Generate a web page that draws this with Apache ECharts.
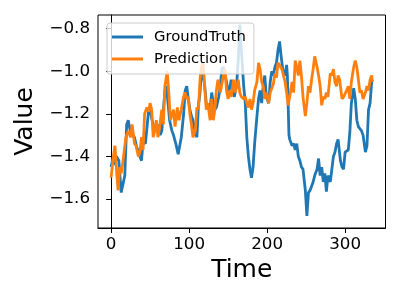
<!DOCTYPE html>
<html>
<head>
<meta charset="utf-8">
<script src="https://cdn.jsdelivr.net/npm/echarts@6/dist/echarts.min.js"></script>
<style>html,body{margin:0;padding:0;background:#fff}#c{width:400px;height:300px}</style>
</head>
<body>
<div id="c"></div>
<script>
var seriesNames = ['GroundTruth', 'Prediction'];
var xTicks = [0, 100, 200, 300];
var yTicks = [-1.6, -1.4, -1.2, -1.0, -0.8];

var gtTime = [0,3,5,7,10,13,15,17.6,20,22,24,27,30,33,35,37,39,41,44,48,50,52,54,57,60,63,65,69,71,73,75,78,80,83,86,88,90,93,95,97,99,101,103,105,108,110,112,114,116,118,120,122,125,127,129,131,133,135,138,140,142,144,146,148,150,152,154,156,158,161,163,165,167,170,172,174,176,178,180,182,184,187,189,191,193,195,197,199,202,204,206,208,210,212,214,216,218,220,223,225,226,228,229,232,234,236,238,240,242,244,246,249,251,253,255,257,259,261,264,266,268,270,272,274,276,278,281,283,285,287,289,291,294,296,298,300,302,304,306,308,311,313,315,317,319,321,323,326,328,330,332,334,335];
var gtValue = [-1.45,-1.40,-1.44,-1.40,-1.42,-1.57,-1.57,-1.49,-1.25,-1.23,-1.27,-1.30,-1.31,-1.36,-1.37,-1.40,-1.42,-1.33,-1.34,-1.19,-1.17,-1.22,-1.25,-1.28,-1.25,-1.30,-1.28,-1.09,-1.07,-1.15,-1.23,-1.28,-1.30,-1.34,-1.39,-1.35,-1.31,-1.20,-1.09,-1.07,-1.13,-1.18,-1.21,-1.23,-1.29,-1.31,-1.16,-1.10,-0.98,-1.02,-1.07,-1.15,-1.16,-1.17,-1.10,-1.15,-1.18,-1.17,-1.12,-1.07,-0.99,-0.98,-1.02,-1.05,-1.10,-1.08,-1.04,-1.09,-1.12,-1.06,-0.95,-0.78,-0.90,-1.07,-1.15,-1.31,-1.40,-1.46,-1.50,-1.45,-1.34,-1.21,-1.13,-1.09,-1.15,-1.07,-1.02,-1.12,-1.15,-1.05,-1.00,-1.02,-0.98,-0.96,-0.90,-0.86,-0.93,-0.99,-1.02,-0.97,-1.02,-1.30,-1.32,-1.35,-1.34,-1.37,-1.34,-1.40,-1.42,-1.45,-1.46,-1.56,-1.68,-1.57,-1.56,-1.54,-1.52,-1.49,-1.46,-1.41,-1.49,-1.45,-1.52,-1.48,-1.565,-1.49,-1.52,-1.46,-1.40,-1.38,-1.34,-1.32,-1.42,-1.45,-1.46,-1.38,-1.38,-1.37,-1.29,-1.15,-1.08,-1.13,-1.23,-1.26,-1.27,-1.28,-1.30,-1.38,-1.35,-1.18,-1.15,-1.05,-1.04];

var predTime = [0,3,5,7.5,9,11,13,15,19,22,25,27,30,32,35,37,39,41,43,46,48,50,52,54,56,58,60,62,65,67,69,72,74,76,80,82,85,87,90,93,95,97,99,101,103,105,108,110,112,114,116,118,120,122,124,127,129,131,133,135,137,140,142,144,146,148,150,152,154,157,159,161,163,165,167,170,172,174,176,178,180,182,184,187,189,191,193,195,197,199,202,204,206,208,210,212,214,216,219,221,223,225,227,229,232,234,236,238,240,242,244,246,249,251,253,255,257,259,261,264,266,268,270,272,274,276,278,281,283,285,287,289,291,293,296,298,300,302,304,306,308,311,313,315,317,319,321,323,326,328,330,332,334,335];
var predValue = [-1.50,-1.40,-1.35,-1.49,-1.56,-1.45,-1.48,-1.43,-1.31,-1.28,-1.31,-1.25,-1.34,-1.35,-1.40,-1.38,-1.31,-1.37,-1.20,-1.17,-1.19,-1.15,-1.18,-1.31,-1.28,-1.23,-1.31,-1.27,-1.18,-1.25,-1.07,-1.00,-1.10,-1.23,-1.18,-1.26,-1.17,-1.23,-1.18,-1.12,-1.10,-1.13,-1.12,-1.20,-1.25,-1.31,-1.28,-1.17,-1.18,-1.04,-0.98,-0.96,-1.07,-1.18,-1.15,-1.23,-1.13,-1.23,-1.18,-1.09,-1.04,-1.10,-1.06,-1.02,-0.99,-1.09,-1.13,-1.09,-1.12,-1.04,-1.10,-1.07,-1.04,-1.10,-1.12,-1.13,-1.12,-1.15,-1.17,-1.13,-1.18,-1.15,-1.09,-1.05,-0.96,-0.99,-1.05,-1.07,-1.13,-1.10,-1.15,-1.10,-1.10,-1.06,-1.01,-1.03,-0.96,-0.96,-0.99,-1.02,-1.05,-1.10,-1.16,-1.12,-1.05,-1.10,-0.95,-0.98,-1.02,-0.95,-1.02,-1.12,-1.21,-1.15,-1.07,-1.10,-1.04,-0.99,-0.93,-0.98,-1.02,-1.07,-1.16,-1.12,-1.13,-1.10,-1.12,-1.01,-1.02,-0.99,-1.05,-1.07,-1.02,-1.04,-1.13,-1.12,-1.12,-1.09,-1.07,-1.13,-1.05,-0.98,-0.95,-0.98,-1.04,-1.10,-1.09,-1.13,-1.10,-1.07,-1.09,-1.04,-1.02,-1.05];

function pairs(t, v) { return t.map(function (x, i) { return [x, v[i]]; }); }
function fmt(v) { return (v < 0 ? '\u2212' : '') + Math.abs(v).toFixed(1); }

var FONT = 'DejaVu Sans';
var chart = echarts.init(document.getElementById('c'), null, { renderer: 'canvas' });
chart.setOption({
  animation: false,
  backgroundColor: '#ffffff',
  textStyle: { fontFamily: FONT },
  grid: { left: 98, right: 14.5, top: 15, bottom: 72, show: true, borderColor: '#000', borderWidth: 1, backgroundColor: 'transparent' },
  legend: {
    orient: 'vertical', left: 107, top: 23,
    padding: [5, 8, 6, 5], itemGap: 4, itemWidth: 31, itemHeight: 3,
    icon: 'rect',
    backgroundColor: 'rgba(255,255,255,0.8)', borderColor: '#cccccc', borderWidth: 1, borderRadius: 3,
    textStyle: { fontFamily: FONT, fontSize: 14.8, color: '#000', lineHeight: 18, padding: [0, 0, 0, 6] },
    data: seriesNames
  },
  xAxis: {
    type: 'value', min: -16.75, max: 351.75,
    name: 'Time', nameLocation: 'middle', nameGap: 30,
    nameTextStyle: { fontFamily: FONT, fontSize: 25, color: '#000' },
    axisLine: { show: true, lineStyle: { color: '#000', width: 1 } },
    axisTick: { show: true, customValues: xTicks, length: 5, lineStyle: { color: '#000', width: 1 } },
    axisLabel: { customValues: xTicks, fontFamily: FONT, fontSize: 16.7, color: '#000', margin: 8 },
    splitLine: { show: false }
  },
  yAxis: {
    type: 'value', min: -1.7365, max: -0.7355,
    name: 'Value', nameLocation: 'middle', nameGap: 60, nameRotate: 90,
    nameTextStyle: { fontFamily: FONT, fontSize: 25, color: '#000' },
    axisLine: { show: true, lineStyle: { color: '#000', width: 1 } },
    axisTick: { show: true, customValues: yTicks, length: 5, lineStyle: { color: '#000', width: 1 } },
    axisLabel: { customValues: yTicks, formatter: fmt, fontFamily: FONT, fontSize: 16.7, color: '#000', margin: 8 },
    splitLine: { show: false }
  },
  series: [
    { name: seriesNames[0], type: 'line', data: pairs(gtTime, gtValue), showSymbol: false, symbol: 'none',
      lineStyle: { color: '#1f77b4', width: 2.8 }, itemStyle: { color: '#1f77b4' }, z: 2 },
    { name: seriesNames[1], type: 'line', data: pairs(predTime, predValue), showSymbol: false, symbol: 'none',
      lineStyle: { color: '#ff7f0e', width: 2.8 }, itemStyle: { color: '#ff7f0e' }, z: 3 }
  ]
});
</script>
</body>
</html>
